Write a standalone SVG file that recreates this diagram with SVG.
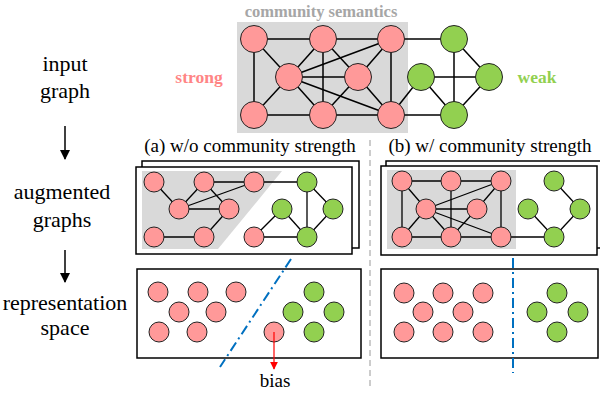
<svg xmlns="http://www.w3.org/2000/svg" width="600" height="395" viewBox="0 0 600 395" font-family="'Liberation Serif','DejaVu Serif','Times New Roman',serif">
<defs>
<style>
.lbl{font-size:22px;fill:#000;text-anchor:middle;}
.ttl{font-size:19px;fill:#000;text-anchor:middle;}
.pk{fill:#FF9999;stroke:#222;stroke-width:1;}
.gr{fill:#92D050;stroke:#222;stroke-width:1;}
.e{stroke:#000;stroke-width:1.5;fill:none;}
.e2{stroke:#000;stroke-width:1.3;fill:none;}
.box{fill:#fff;stroke:#000;stroke-width:1.5;}
.shade{fill:#D9D9D9;stroke:none;}
.sep{stroke:#0070C0;stroke-width:2;stroke-dasharray:10,4,2,4;fill:none;}
</style>
<marker id="ah" viewBox="0 0 10 10" refX="9" refY="5" markerWidth="10" markerHeight="10" markerUnits="userSpaceOnUse" orient="auto"><path d="M0,0L10,5L0,10Z" fill="#000"/></marker>
<marker id="ahr" viewBox="0 0 10 10" refX="9" refY="5" markerWidth="8" markerHeight="8" markerUnits="userSpaceOnUse" orient="auto"><path d="M0,0L10,5L0,10Z" fill="#FF0000"/></marker>
</defs>
<rect width="600" height="395" fill="#fff"/>

<!-- labels -->
<g id="labels" font-family="'Liberation Serif','DejaVu Serif',serif">
<text class="lbl" x="65" y="71">input</text>
<text class="lbl" x="65" y="98">graph</text>
<text class="lbl" x="62" y="199">augmented</text>
<text class="lbl" x="62" y="227">graphs</text>
<text class="lbl" x="65" y="310">representation</text>
<text class="lbl" x="65" y="335">space</text>
<text x="321" y="17" font-size="16.5" font-weight="bold" fill="#A6A6A6" text-anchor="middle">community semantics</text>
<text x="199" y="83" font-size="17.5" font-weight="bold" fill="#FF8585" text-anchor="middle">strong</text>
<text x="537" y="83" font-size="17.5" font-weight="bold" fill="#92D050" text-anchor="middle">weak</text>
<text class="ttl" x="250" y="152">(a) w/o community strength</text>
<text class="ttl" x="490" y="152">(b) w/ community strength</text>
<text x="275" y="387" font-size="19" text-anchor="middle">bias</text>
</g>

<line x1="370" y1="140" x2="370" y2="386" stroke="#CCCCCC" stroke-width="2" stroke-dasharray="6,4"/>

<!-- boxes -->
<g id="boxes">
<rect class="box" x="142" y="161" width="217" height="87"/>
<rect class="box" x="136" y="167" width="216" height="87"/>
<polygon class="shade" points="142,171 282,171 218,249 142,249"/>
<rect class="box" x="386" y="161" width="216" height="87"/>
<rect class="box" x="381" y="166" width="216" height="89"/>
<rect class="shade" x="387" y="170" width="129" height="79"/>
<rect class="box" x="137" y="269" width="224" height="89"/>
<rect class="box" x="381" y="269" width="217" height="89"/>
<rect class="shade" x="237" y="22" width="171" height="111"/>
</g>

<!-- connectors -->
<g id="connectors">
<g class="e">
<line x1="254" y1="39" x2="323" y2="39"/>
<line x1="323" y1="39" x2="391" y2="39"/>
<line x1="391" y1="39" x2="454" y2="39"/>
<line x1="254" y1="39" x2="254" y2="115"/>
<line x1="254" y1="39" x2="289" y2="77"/>
<line x1="323" y1="39" x2="289" y2="77"/>
<line x1="323" y1="39" x2="358" y2="77"/>
<line x1="323" y1="39" x2="323" y2="115"/>
<line x1="391" y1="39" x2="289" y2="77"/>
<line x1="391" y1="39" x2="358" y2="77"/>
<line x1="391" y1="39" x2="391" y2="115"/>
<line x1="289" y1="77" x2="358" y2="77"/>
<line x1="289" y1="77" x2="254" y2="115"/>
<line x1="289" y1="77" x2="323" y2="115"/>
<line x1="289" y1="77" x2="391" y2="115"/>
<line x1="358" y1="77" x2="323" y2="115"/>
<line x1="358" y1="77" x2="391" y2="115"/>
<line x1="254" y1="115" x2="323" y2="115"/>
<line x1="323" y1="115" x2="391" y2="115"/>
<line x1="391" y1="115" x2="454" y2="115"/>
<line x1="391" y1="115" x2="421" y2="77"/>
<line x1="454" y1="39" x2="454" y2="115"/>
<line x1="454" y1="39" x2="489" y2="77"/>
<line x1="421" y1="77" x2="489" y2="77"/>
<line x1="421" y1="77" x2="454" y2="115"/>
<line x1="489" y1="77" x2="454" y2="115"/>
</g>
<g class="e2">
<line x1="154" y1="182" x2="179" y2="209"/>
<line x1="204" y1="182" x2="254" y2="182"/>
<line x1="204" y1="182" x2="179" y2="209"/>
<line x1="204" y1="182" x2="229" y2="209"/>
<line x1="179" y1="209" x2="254" y2="182"/>
<line x1="179" y1="209" x2="229" y2="209"/>
<line x1="229" y1="209" x2="204" y2="237"/>
<line x1="154" y1="237" x2="204" y2="237"/>
<line x1="254" y1="182" x2="307" y2="182"/>
<line x1="307" y1="182" x2="307" y2="237"/>
<line x1="307" y1="182" x2="333" y2="209"/>
<line x1="333" y1="209" x2="307" y2="237"/>
<line x1="282" y1="209" x2="307" y2="237"/>
<line x1="282" y1="209" x2="254" y2="237"/>
<line x1="254" y1="237" x2="307" y2="237"/>
</g>
<g class="e2">
<line x1="402" y1="181" x2="451" y2="181"/>
<line x1="451" y1="181" x2="501" y2="181"/>
<line x1="402" y1="181" x2="402" y2="237"/>
<line x1="402" y1="181" x2="426" y2="209"/>
<line x1="451" y1="181" x2="451" y2="237"/>
<line x1="501" y1="181" x2="426" y2="209"/>
<line x1="501" y1="181" x2="477" y2="209"/>
<line x1="501" y1="181" x2="501" y2="237"/>
<line x1="426" y1="209" x2="477" y2="209"/>
<line x1="426" y1="209" x2="402" y2="237"/>
<line x1="426" y1="209" x2="451" y2="237"/>
<line x1="426" y1="209" x2="501" y2="237"/>
<line x1="477" y1="209" x2="451" y2="237"/>
<line x1="402" y1="237" x2="451" y2="237"/>
<line x1="451" y1="237" x2="501" y2="237"/>
<line x1="501" y1="237" x2="554" y2="237"/>
<line x1="554" y1="181" x2="580" y2="209"/>
<line x1="580" y1="209" x2="554" y2="237"/>
<line x1="528" y1="209" x2="554" y2="237"/>
</g>
<line x1="65" y1="126" x2="65" y2="159" stroke="#000" stroke-width="1.5" marker-end="url(#ah)"/>
<line x1="65" y1="250" x2="65" y2="282" stroke="#000" stroke-width="1.5" marker-end="url(#ah)"/>
<line class="sep" x1="291" y1="259" x2="220" y2="367"/>
<line class="sep" x1="513" y1="258" x2="513" y2="373"/>
</g>

<g id="top-nodes">
<g id="t1"><circle class="pk" cx="254" cy="39" r="13.5"/></g>
<g id="t2"><circle class="pk" cx="323" cy="39" r="13.5"/></g>
<g id="t3"><circle class="pk" cx="391" cy="39" r="13.5"/></g>
<g id="t4"><circle class="pk" cx="289" cy="77" r="13.5"/></g>
<g id="t5"><circle class="pk" cx="358" cy="77" r="13.5"/></g>
<g id="t6"><circle class="pk" cx="254" cy="115" r="13.5"/></g>
<g id="t7"><circle class="pk" cx="323" cy="115" r="13.5"/></g>
<g id="t8"><circle class="pk" cx="391" cy="115" r="13.5"/></g>
<g id="tg1"><circle class="gr" cx="454" cy="39" r="13.5"/></g>
<g id="tg2"><circle class="gr" cx="421" cy="77" r="13.5"/></g>
<g id="tg3"><circle class="gr" cx="489" cy="77" r="13.5"/></g>
<g id="tg4"><circle class="gr" cx="454" cy="115" r="13.5"/></g>
</g>

<g id="a-nodes">
<g id="a1"><circle class="pk" cx="154" cy="182" r="10"/></g>
<g id="a2"><circle class="pk" cx="204" cy="182" r="10"/></g>
<g id="a3"><circle class="pk" cx="254" cy="182" r="10"/></g>
<g id="a4"><circle class="pk" cx="179" cy="209" r="10"/></g>
<g id="a5"><circle class="pk" cx="229" cy="209" r="10"/></g>
<g id="a6"><circle class="pk" cx="154" cy="237" r="10"/></g>
<g id="a7"><circle class="pk" cx="204" cy="237" r="10"/></g>
<g id="a8"><circle class="pk" cx="254" cy="237" r="10"/></g>
<g id="ag1"><circle class="gr" cx="307" cy="182" r="10"/></g>
<g id="ag2"><circle class="gr" cx="282" cy="209" r="10"/></g>
<g id="ag3"><circle class="gr" cx="333" cy="209" r="10"/></g>
<g id="ag4"><circle class="gr" cx="307" cy="237" r="10"/></g>
</g>

<g id="b-nodes">
<g id="b1"><circle class="pk" cx="402" cy="181" r="10"/></g>
<g id="b2"><circle class="pk" cx="451" cy="181" r="10"/></g>
<g id="b3"><circle class="pk" cx="501" cy="181" r="10"/></g>
<g id="b4"><circle class="pk" cx="426" cy="209" r="10"/></g>
<g id="b5"><circle class="pk" cx="477" cy="209" r="10"/></g>
<g id="b6"><circle class="pk" cx="402" cy="237" r="10"/></g>
<g id="b7"><circle class="pk" cx="451" cy="237" r="10"/></g>
<g id="b8"><circle class="pk" cx="501" cy="237" r="10"/></g>
<g id="bg1"><circle class="gr" cx="554" cy="181" r="10"/></g>
<g id="bg2"><circle class="gr" cx="528" cy="209" r="10"/></g>
<g id="bg3"><circle class="gr" cx="580" cy="209" r="10"/></g>
<g id="bg4"><circle class="gr" cx="554" cy="237" r="10"/></g>
</g>

<g id="c-nodes">
<g id="c1"><circle class="pk" cx="158" cy="292" r="10"/></g>
<g id="c2"><circle class="pk" cx="198" cy="292" r="10"/></g>
<g id="c3"><circle class="pk" cx="236" cy="292" r="10"/></g>
<g id="c4"><circle class="pk" cx="179" cy="312" r="10"/></g>
<g id="c5"><circle class="pk" cx="216" cy="312" r="10"/></g>
<g id="c6"><circle class="pk" cx="159" cy="332" r="10"/></g>
<g id="c7"><circle class="pk" cx="197" cy="332" r="10"/></g>
<g id="c8"><circle class="pk" cx="274" cy="332" r="10"/></g>
<g id="cg1"><circle class="gr" cx="314" cy="292" r="10"/></g>
<g id="cg2"><circle class="gr" cx="293" cy="312" r="10"/></g>
<g id="cg3"><circle class="gr" cx="334" cy="312" r="10"/></g>
<g id="cg4"><circle class="gr" cx="314" cy="332" r="10"/></g>
</g>
<line x1="274" y1="332" x2="274" y2="369" stroke="#FF0000" stroke-width="1.2" marker-end="url(#ahr)"/>

<g id="d-nodes">
<g id="d1"><circle class="pk" cx="404" cy="293" r="10"/></g>
<g id="d2"><circle class="pk" cx="443" cy="293" r="10"/></g>
<g id="d3"><circle class="pk" cx="483" cy="293" r="10"/></g>
<g id="d4"><circle class="pk" cx="423" cy="312" r="10"/></g>
<g id="d5"><circle class="pk" cx="463" cy="312" r="10"/></g>
<g id="d6"><circle class="pk" cx="404" cy="332" r="10"/></g>
<g id="d7"><circle class="pk" cx="443" cy="332" r="10"/></g>
<g id="d8"><circle class="pk" cx="483" cy="332" r="10"/></g>
<g id="dg1"><circle class="gr" cx="557" cy="293" r="10"/></g>
<g id="dg2"><circle class="gr" cx="537" cy="312" r="10"/></g>
<g id="dg3"><circle class="gr" cx="578" cy="312" r="10"/></g>
<g id="dg4"><circle class="gr" cx="557" cy="332" r="10"/></g>
</g>
</svg>
